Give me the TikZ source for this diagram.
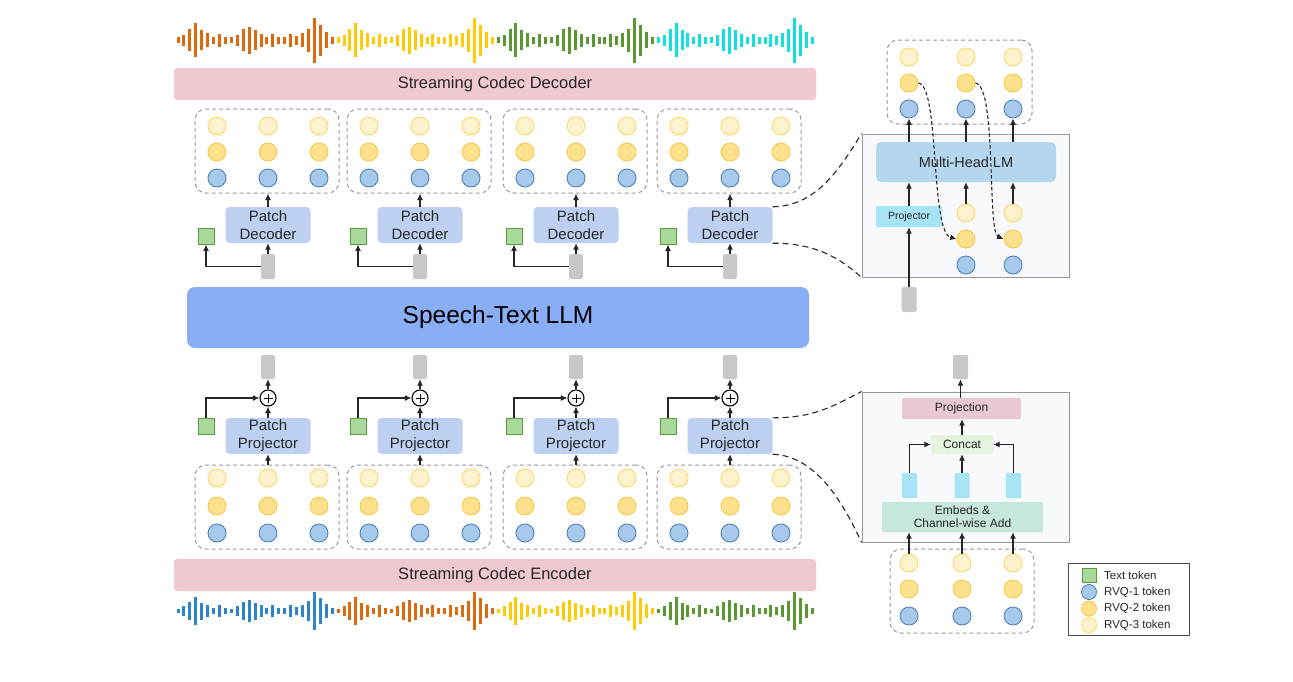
\documentclass[tikz,border=0pt]{standalone}
\usepackage{fontspec}
\setmainfont{Liberation Sans}
\usetikzlibrary{arrows.meta,calc}

% token colours
\definecolor{rvqone}{HTML}{A6C9EC}
\definecolor{rvqonedraw}{HTML}{4F83B8}
\definecolor{rvqtwo}{HTML}{FDE18C}
\definecolor{rvqtwodraw}{HTML}{F5C94E}
\definecolor{rvqthree}{HTML}{FFF3CF}
\definecolor{rvqthreedraw}{HTML}{FAD86A}
\definecolor{txtfill}{HTML}{A9D99B}
\definecolor{txtdraw}{HTML}{5B9B3C}
\definecolor{hidgray}{HTML}{C8C8C8}
% block colours
\definecolor{codecpink}{HTML}{F0C9D0}
\definecolor{llmblue}{HTML}{8AAEF6}
\definecolor{patchblue}{HTML}{BDD0F1}
\definecolor{headblue}{HTML}{B4D6EF}
\definecolor{projcyan}{HTML}{A8E4F8}
\definecolor{projpink}{HTML}{E9C8D5}
\definecolor{concatgreen}{HTML}{E6F4DF}
\definecolor{embedgreen}{HTML}{C6E7DA}
\definecolor{panelfill}{HTML}{F8F9FD}
% waveform colours
\definecolor{waveorange}{HTML}{DD6A0E}
\definecolor{waveyellow}{HTML}{FFCB05}
\definecolor{wavegreen}{HTML}{5A9632}
\definecolor{wavecyan}{HTML}{12E0DC}
\definecolor{waveblue}{HTML}{2D84C8}

\tikzset{
  every node/.style={text=black!85},
  tok/.style={circle, minimum size=18pt, inner sep=0pt, line width=0.9pt},
  rvqA/.style={tok, fill=rvqone, draw=rvqonedraw},
  rvqB/.style={tok, fill=rvqtwo, draw=rvqtwodraw},
  rvqC/.style={tok, fill=rvqthree, draw=rvqthreedraw},
  grpbox/.style={draw=black!40, dash pattern=on 4pt off 3pt, rounded corners=11pt,
    line width=1pt, minimum width=144pt, minimum height=84pt, inner sep=0pt},
  patchbox/.style={fill=patchblue, rounded corners=4pt, minimum width=85pt,
    minimum height=36pt, align=center, inner sep=0pt, font=\fontsize{15}{18}\selectfont},
  txttok/.style={fill=txtfill, draw=txtdraw, line width=0.9pt, minimum size=16pt, inner sep=0pt},
  hidtok/.style={fill=hidgray, rounded corners=1.5pt, minimum width=14pt,
    minimum height=25pt, inner sep=0pt},
  codecbar/.style={fill=codecpink, rounded corners=3pt, minimum width=642pt,
    minimum height=32pt, font=\fontsize{16.5}{19}\selectfont},
  arr/.style={-{Latex[length=6.5pt,width=6pt]}, line width=1.15pt, draw=black!85},
  zoomline/.style={dash pattern=on 6pt off 4pt, line width=1.1pt, draw=black!85},
  flowdash/.style={dash pattern=on 3.5pt off 2.5pt, line width=1.1pt, draw=black!85,
    -{Latex[length=6.5pt,width=6pt]}},
  panel/.style={fill=panelfill, draw=black!40, line width=0.9pt, inner sep=0pt},
  smallbox/.style={inner sep=0pt, rounded corners=2pt},
  cyanbar/.style={fill=projcyan, minimum width=15pt, minimum height=25pt,
    inner sep=0pt, rounded corners=1pt},
  addop/.style={circle, draw=black, fill=white, line width=1.1pt, minimum size=16pt,
    inner sep=0pt, path picture={
      \draw[line width=1pt] ($(path picture bounding box.center)+(-4.5,0)$) -- ++(9,0)
        ($(path picture bounding box.center)+(0,-4.5)$) -- ++(0,9);}},
  legtext/.style={anchor=west, inner sep=0pt, font=\fontsize{11.5}{13}\selectfont},
}

% one waveform segment: start x, centre y, height scale, colour
\newcommand\wavesegment[4]{%
  \foreach \h [count=\k from 0] in {5.4,11,22,34,20,14,7,13,7,5.4,11,22,27,20,13,7,13,7,7,13,9,14,23,45,31,16,7}
    \fill[#4] ({#1+\k*5.93-1.5}, {#2-#3*\h/2}) rectangle ++(3, {#3*\h});%
}

\begin{document}
\begin{tikzpicture}[x=1pt, y=-1pt]
\useasboundingbox[fill=white] (0,0) rectangle (1293,681);

% ---------------- waveforms ----------------
\wavesegment{178}{40}{1}{waveorange}
\wavesegment{338.1}{40}{1}{waveyellow}
\wavesegment{498.2}{40}{1}{wavegreen}
\wavesegment{658.3}{40}{1}{wavecyan}

\wavesegment{178}{611}{0.85}{waveblue}
\wavesegment{338.1}{611}{0.85}{waveorange}
\wavesegment{498.2}{611}{0.85}{waveyellow}
\wavesegment{658.3}{611}{0.85}{wavegreen}

% ---------------- main blocks ----------------
\node[codecbar] (decbar) at (495,84) {Streaming Codec Decoder};
\node[codecbar] (encbar) at (495,575) {Streaming Codec Encoder};
\node[fill=llmblue, rounded corners=8pt, minimum width=622pt, minimum height=61pt,
  font=\fontsize{24.5}{28}\selectfont, text=black] (llm) at (498,317.5) {Speech-Text LLM};

% ---------------- decoder side ----------------
\foreach \i/\c in {1/268,2/420,3/576,4/730} {
  \node[grpbox] (dg\i) at (\c-1,151) {};
  \foreach \col/\dx in {1/-51,2/0,3/51} {
    \node[rvqC] (dtop\i\col) at (\c+\dx,126) {};
    \node[rvqB] (dmid\i\col) at (\c+\dx,152) {};
    \node[rvqA] (dbot\i\col) at (\c+\dx,178) {};
  }
  \node[patchbox] (pd\i) at (\c,225) {Patch\\Decoder};
  \node[txttok] (dt\i) at (\c-62,236) {};
  \node[hidtok] (dh\i) at (\c,266.5) {};
  \draw[arr] (dh\i.north) -- (pd\i.south);
  \draw[arr] (pd\i.north) -- (pd\i.north |- dg\i.south);
  \draw[arr] (dh\i.west) -| (dt\i.south);
}

% ---------------- encoder side ----------------
\foreach \i/\c in {1/268,2/420,3/576,4/730} {
  \node[hidtok, minimum height=24pt] (eh\i) at (\c,367) {};
  \node[addop] (ep\i) at (\c,398) {};
  \node[patchbox] (pp\i) at (\c,436) {Patch\\Projector};
  \node[txttok] (et\i) at (\c-62,426) {};
  \node[grpbox] (eg\i) at (\c-1,507) {};
  \foreach \col/\dx in {1/-51,2/0,3/51} {
    \node[rvqC] (etop\i\col) at (\c+\dx,478) {};
    \node[rvqB] (emid\i\col) at (\c+\dx,506) {};
    \node[rvqA] (ebot\i\col) at (\c+\dx,533) {};
  }
  \draw[arr] (pp\i.south |- eg\i.north) -- (pp\i.south);
  \draw[arr] (pp\i.north) -- (ep\i.south);
  \draw[arr] (ep\i.north) -- (eh\i.south);
  \draw[arr] (et\i.north) |- (ep\i.west);
}

% ---------------- multi-head decoder detail ----------------
\node[panel, minimum width=207pt, minimum height=143pt] (tpanel) at (965.5,205.5) {};
\node[grpbox, minimum width=145pt] (tgrp) at (959.5,82) {};
\foreach \col/\x in {1/909,2/966,3/1013} {
  \node[rvqC] (tt\col) at (\x,57) {};
  \node[rvqB] (tm\col) at (\x,83) {};
  \node[rvqA] (tb\col) at (\x,109) {};
}
\node[fill=headblue, rounded corners=5pt, minimum width=180pt, minimum height=40pt,
  font=\fontsize{14.5}{17}\selectfont] (mhlm) at (966,162) {Multi-Head LM};
\node[fill=projcyan, smallbox, minimum width=66pt, minimum height=21pt,
  font=\fontsize{10.5}{12}\selectfont] (tproj) at (909,216.5) {Projector};
\node[hidtok, minimum width=15pt] (tgray) at (909,299.5) {};
\foreach \col/\x in {2/966,3/1013} {
  \node[rvqC] (pu\col) at (\x,213) {};
  \node[rvqB] (pm\col) at (\x,239) {};
  \node[rvqA] (pl\col) at (\x,265) {};
  \draw[arr] (pu\col.north) -- (pu\col.north |- mhlm.south);
}
\draw[arr] (tgray.north) -- (tproj.south);
\draw[arr] (tproj.north) -- (tproj.north |- mhlm.south);
\foreach \col in {1,2,3}
  \draw[arr] (tb\col.south |- mhlm.north) -- (tb\col.south);
\draw[flowdash] (tm1.east) .. controls (940,86) and (930,232) .. (pm2.west);
\draw[flowdash] (tm2.east) .. controls (997,86) and (987,232) .. (pm3.west);

\draw[zoomline] (pd4.north east) .. controls (815,206) and (838,172) .. (tpanel.north west);
\draw[zoomline] (pd4.south east) .. controls (815,243) and (840,258) .. (tpanel.south west);

% ---------------- patch projector detail ----------------
\node[panel, minimum width=207pt, minimum height=150pt] (bpanel) at (965.5,467) {};
\node[hidtok, minimum width=15pt, minimum height=24pt] (bgray) at (960.5,367) {};
\node[fill=projpink, smallbox, minimum width=119pt, minimum height=21pt,
  font=\fontsize{12}{14}\selectfont] (projn) at (961.5,408.5) {Projection};
\node[fill=concatgreen, smallbox, minimum width=62pt, minimum height=19pt,
  font=\fontsize{12}{14}\selectfont] (concat) at (962,444.5) {Concat};
\node[cyanbar] (cy1) at (909.5,485.5) {};
\node[cyanbar] (cy2) at (962,485.5) {};
\node[cyanbar] (cy3) at (1013.5,485.5) {};
\node[fill=embedgreen, smallbox, minimum width=161pt, minimum height=30pt, align=center,
  font=\fontsize{12}{13.3}\selectfont] (embeds) at (962.5,517) {Embeds \&\\Channel-wise Add};
\node[grpbox] (bgrp) at (962,591) {};
\foreach \col/\x in {1/909,2/962,3/1013} {
  \node[rvqC] (bt\col) at (\x,563) {};
  \node[rvqB] (bm\col) at (\x,589) {};
  \node[rvqA] (bb\col) at (\x,616) {};
  \draw[arr] (bt\col.north) -- (bt\col.north |- embeds.south);
}
\draw[arr] (cy1.north) |- (concat.west);
\draw[arr] (cy2.north) -- (concat.south);
\draw[arr] (cy3.north) |- (concat.east);
\draw[arr] (concat.north) -- (concat.north |- projn.south);
\draw[arr] (projn.north -| bgray) -- (bgray.south);

\draw[zoomline] (pp4.north east) .. controls (815,418) and (835,405) .. (bpanel.north west);
\draw[zoomline] (pp4.south east) .. controls (815,456) and (842,500) .. (bpanel.south west);

% ---------------- legend ----------------
\node[draw=black!70, line width=0.9pt, minimum width=121pt, minimum height=72pt,
  inner sep=0pt] (legend) at (1128.5,599) {};
\node[txttok, minimum size=14pt] (lgtxt) at (1089,575) {};
\node[rvqA, minimum size=15pt] (lgA) at (1089,592) {};
\node[rvqB, minimum size=15pt] (lgB) at (1089,608.5) {};
\node[rvqC, minimum size=15pt] (lgC) at (1089,625) {};
\node[legtext] (lgtxtl) at (1104,575) {Text token};
\node[legtext] (lgAl) at (1104,592) {RVQ-1 token};
\node[legtext] (lgBl) at (1104,608.5) {RVQ-2 token};
\node[legtext] (lgCl) at (1104,625) {RVQ-3 token};
\end{tikzpicture}
\end{document}
